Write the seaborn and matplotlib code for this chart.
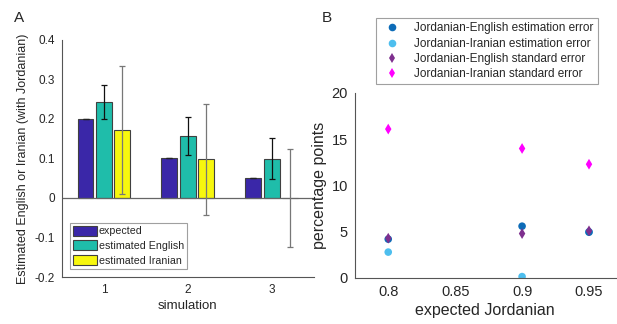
import numpy as np
import pandas as pd
import matplotlib
matplotlib.use("Agg")
import matplotlib.pyplot as plt
import seaborn as sns
from matplotlib.patches import Patch

# panel A data
simulations = ["1", "2", "3"]
bar_series = ["expected", "estimated English", "estimated Iranian"]
expected = [0.2, 0.1, 0.05]
est_english = [0.242, 0.156, 0.0995]
est_iranian = [0.172, 0.098, 0.0]
err_expected = [0.0, 0.0, 0.0]
err_english = [0.043, 0.048, 0.051]
err_iranian = [0.161, 0.140, 0.124]

# panel B data
expected_jordanian = [0.8, 0.9, 0.95]
je_est_error = [4.2, 5.6, 4.95]
ji_est_error = [2.8, 0.15, 5.0]
je_std_error = [4.3, 4.8, 5.1]
ji_std_error = [16.1, 14.0, 12.3]
point_series = ["Jordanian-English estimation error",
                "Jordanian-Iranian estimation error",
                "Jordanian-English standard error",
                "Jordanian-Iranian standard error"]

sns.set_theme(style="white")
plt.rcParams["font.family"] = ["Liberation Sans", "DejaVu Sans"]
txt = "#262626"
spine_c = "#555555"

fig = plt.figure(figsize=(6.17, 3.24), dpi=100)
axA = fig.add_axes([0.1005, 0.145, 0.408, 0.732])
axB = fig.add_axes([0.575, 0.142, 0.423, 0.571])

# ---- A: grouped bars
bar_colors = ["#3a27a8", "#1fbdaa", "#f7f70e"]
df_a = pd.DataFrame({
    "simulation": simulations * 3,
    "series": np.repeat(bar_series, 3),
    "value": expected + est_english + est_iranian,
})
sns.barplot(data=df_a, x="simulation", y="value", hue="series", hue_order=bar_series,
            palette=bar_colors, saturation=1, width=0.66, gap=0.14, errorbar=None,
            edgecolor="#404040", linewidth=0.8, ax=axA, legend=False)

errs = [err_expected, err_english, err_iranian]
ecols = ["#222222", "#111111", "#777777"]
for cont, e, c in zip(axA.containers, errs, ecols):
    xs = [p.get_x() + p.get_width() / 2 for p in cont]
    ys = [p.get_height() for p in cont]
    axA.errorbar(xs, ys, yerr=e, fmt="none", ecolor=c, elinewidth=0.9,
                 capsize=2.5, capthick=0.9, zorder=5)

axA.axhline(0, color="#666666", lw=0.9, zorder=1)
axA.set_ylim(-0.2, 0.4)
axA.set_xlim(-0.5, 2.5)
axA.set_yticks(np.arange(-0.2, 0.41, 0.1))
axA.set_yticklabels([f"{round(v, 1):g}" for v in np.arange(-0.2, 0.41, 0.1)])
axA.set_xlabel("simulation", fontsize=9.5, color=txt, labelpad=3)
axA.set_ylabel("Estimated English or Iranian (with Jordanian)", fontsize=9, color=txt, labelpad=4)
axA.tick_params(direction="in", length=3, labelsize=8.5, colors=txt, pad=5)
sns.despine(ax=axA)
for s in ["left", "bottom"]:
    axA.spines[s].set_color(spine_c)
    axA.spines[s].set_linewidth(0.8)

handles = [Patch(facecolor=c, edgecolor="#404040", lw=0.8) for c in bar_colors]
legA = axA.legend(handles, bar_series, loc="lower left", bbox_to_anchor=(0.03, 0.035),
                  fontsize=7.7, handlelength=2.3, handleheight=1.1, handletextpad=0.15,
                  labelspacing=0.35, borderpad=0.3, borderaxespad=0, frameon=True,
                  fancybox=False)
legA.get_frame().set_edgecolor("#888888")
legA.get_frame().set_linewidth(0.8)

# ---- B: scatter
draw_order = [1, 0, 2, 3]
vals = [je_est_error, ji_est_error, je_std_error, ji_std_error]
df_b = pd.DataFrame({
    "expected": expected_jordanian * 4,
    "pp": sum((vals[i] for i in draw_order), []),
    "series": np.repeat([point_series[i] for i in draw_order], 3),
})
point_colors = {point_series[0]: "#0d6cb8", point_series[1]: "#4dbeee",
                point_series[2]: "#7e2f8e", point_series[3]: "#ff00ff"}
markers = {point_series[0]: "o", point_series[1]: "o",
           point_series[2]: "d", point_series[3]: "d"}
sns.scatterplot(data=df_b, x="expected", y="pp", hue="series", style="series",
                hue_order=point_series, style_order=point_series,
                palette=point_colors, markers=markers, s=30, linewidth=0, ax=axB)
h, l = axB.get_legend_handles_labels()
axB.get_legend().remove()
legB = fig.legend(h, l, loc="upper right", bbox_to_anchor=(0.978, 0.962),
                  fontsize=8.5, handletextpad=0.9, labelspacing=0.28, borderpad=0.35,
                  handlelength=2.0, frameon=True, fancybox=False)
legB.get_frame().set_edgecolor("#888888")
legB.get_frame().set_linewidth(0.8)

axB.set_xlim(0.775, 0.97)
axB.set_ylim(0, 20)
axB.set_xticks([0.8, 0.85, 0.9, 0.95])
axB.set_xticklabels(["0.8", "0.85", "0.9", "0.95"])
axB.set_yticks([0, 5, 10, 15, 20])
axB.set_xlabel("expected Jordanian", fontsize=11.5, color=txt, labelpad=3)
axB.set_ylabel("percentage points", fontsize=11.5, color=txt, labelpad=3)
axB.tick_params(direction="in", length=3, labelsize=10.5, colors=txt, pad=5)
sns.despine(ax=axB)
for s in ["left", "bottom"]:
    axB.spines[s].set_color(spine_c)
    axB.spines[s].set_linewidth(0.8)

fig.text(0.022, 0.965, "A", fontsize=11, color=txt, va="top")
fig.text(0.522, 0.965, "B", fontsize=11, color=txt, va="top")

fig.savefig("out.png", dpi=100)
